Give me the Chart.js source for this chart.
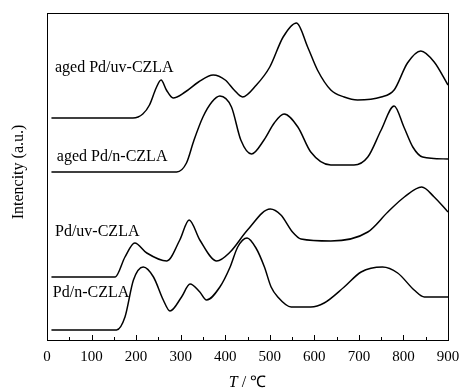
<!DOCTYPE html>
<html>
<head>
<meta charset="utf-8">
<script src="https://cdn.jsdelivr.net/npm/chart.js@4"></script>
<style>
  html, body { margin: 0; padding: 0; background: #fff; }
  #wrap { width: 462px; height: 391px; }
</style>
</head>
<body>
<div id="wrap"><canvas id="tpr"></canvas></div>
<script>
// temperature (°C) and intensity (a.u., offset per curve)
var agedUvT = [10, 193, 215, 230, 245, 256, 268, 283, 310, 340, 373, 400, 420, 439, 470, 500, 530, 560, 585, 607, 637, 667, 697, 750, 779, 809, 839, 869, 900];
var agedUvI = [222, 222, 226, 235, 252, 260, 250, 242, 248, 258, 265, 260, 250, 243, 255, 273, 303, 317, 293, 270, 250, 243, 240, 243, 250, 277, 289, 278, 255];

var agedNT = [10, 291, 313, 330, 350, 370, 388, 414, 435, 459, 487, 510, 532, 563, 592, 637, 689, 720, 750, 779, 801, 821, 843, 900];
var agedNI = [168, 168, 177, 200, 223, 238, 244, 233, 200, 186, 200, 217, 226, 213, 188, 175, 175, 183, 210, 234, 213, 193, 183, 181];

var uvT = [10, 153, 175, 197, 224, 269, 298, 319, 343, 381, 411, 450, 501, 525, 551, 570, 637, 720, 765, 802, 841, 869, 900];
var uvI = [63, 63, 83, 97, 87, 79, 100, 120, 100, 79, 88, 110, 131, 125, 108, 101, 99, 108, 128, 143, 153, 143, 128];

var nT = [10, 156, 175, 194, 216, 239, 261, 276, 302, 321, 343, 358, 388, 411, 428, 449, 469, 488, 503, 518, 548, 592, 622, 667, 705, 753, 787, 824, 847, 900];
var nI = [10, 10, 23, 60, 73, 63, 40, 29, 43, 56, 48, 40, 53, 73, 93, 102, 92, 73, 53, 43, 33, 33, 37, 53, 68, 73, 67, 50, 43, 43];

var seriesNames = ["aged Pd/uv-CZLA", "aged Pd/n-CZLA", "Pd/uv-CZLA", "Pd/n-CZLA"];

function pts(xs, ys) {
  return xs.map(function (x, i) { return { x: x, y: ys[i] }; });
}

function line(name, xs, ys) {
  return {
    label: name,
    data: pts(xs, ys),
    borderColor: '#000',
    borderWidth: 1.5,
    pointRadius: 0,
    fill: false,
    cubicInterpolationMode: 'monotone'
  };
}

var serif = "'Liberation Serif', 'Times New Roman', serif";

// curve labels, anchored in data units
var labelSpots = [
  { text: seriesNames[0], x: 18, y: 272 },
  { text: seriesNames[1], x: 22, y: 183 },
  { text: seriesNames[2], x: 18, y: 108 },
  { text: seriesNames[3], x: 13, y: 47 }
];

var decor = {
  id: 'decor',
  afterDraw: function (chart) {
    var ctx = chart.ctx;
    var a = chart.chartArea;
    var xs = chart.scales.x, ys = chart.scales.y;
    ctx.save();
    ctx.strokeStyle = '#000';
    ctx.lineWidth = 1;
    ctx.strokeRect(Math.round(a.left) + 0.5, Math.round(a.top) + 0.5,
      Math.round(a.right - a.left), Math.round(a.bottom - a.top));
    // inward ticks
    for (var v = 0; v <= 900; v += 50) {
      var px = Math.round(xs.getPixelForValue(v)) + 0.5;
      var len = v % 100 === 0 ? 5 : 3;
      ctx.beginPath();
      ctx.moveTo(px, a.bottom);
      ctx.lineTo(px, a.bottom - len);
      ctx.stroke();
    }
    ctx.fillStyle = '#000';
    ctx.textBaseline = 'middle';
    ctx.textAlign = 'left';
    ctx.font = '16px ' + serif;
    labelSpots.forEach(function (s) {
      ctx.fillText(s.text, xs.getPixelForValue(s.x), ys.getPixelForValue(s.y));
    });
    // x title: italic T
    var cx = (a.left + a.right) / 2, cy = 383;
    ctx.font = 'italic 16px ' + serif;
    var w1 = ctx.measureText('T').width;
    ctx.font = '16px ' + serif;
    var w2 = ctx.measureText(' / \u2103').width;
    var x0 = cx - (w1 + w2) / 2;
    ctx.font = 'italic 16px ' + serif;
    ctx.fillText('T', x0, cy);
    ctx.font = '16px ' + serif;
    ctx.fillText(' / \u2103', x0 + w1, cy);
    // y title
    ctx.translate(19, 172);
    ctx.rotate(-Math.PI / 2);
    ctx.textAlign = 'center';
    ctx.fillText('Intencity (a.u.)', 0, 0);
    ctx.restore();
  }
};

new Chart(document.getElementById('tpr'), {
  type: 'line',
  data: {
    datasets: [
      line(seriesNames[0], agedUvT, agedUvI),
      line(seriesNames[1], agedNT, agedNI),
      line(seriesNames[2], uvT, uvI),
      line(seriesNames[3], nT, nI)
    ]
  },
  options: {
    responsive: true,
    maintainAspectRatio: false,
    animation: false,
    layout: { padding: { top: 13, right: 14, left: 0, bottom: 0 } },
    plugins: { legend: { display: false }, tooltip: { enabled: false } },
    scales: {
      x: {
        type: 'linear',
        min: 0,
        max: 900,
        grid: { display: false, drawTicks: false },
        border: { display: false },
        ticks: { stepSize: 100, padding: 8, color: '#000', font: { family: serif, size: 15 } },
        afterFit: function (s) { s.height = 51; s.paddingRight = 0; s.paddingLeft = 0; }
      },
      y: {
        min: 0,
        max: 327,
        grid: { display: false, drawTicks: false },
        border: { display: false },
        ticks: { display: false },
        afterFit: function (s) { s.width = 47; }
      }
    }
  },
  plugins: [decor]
});
</script>
</body>
</html>
